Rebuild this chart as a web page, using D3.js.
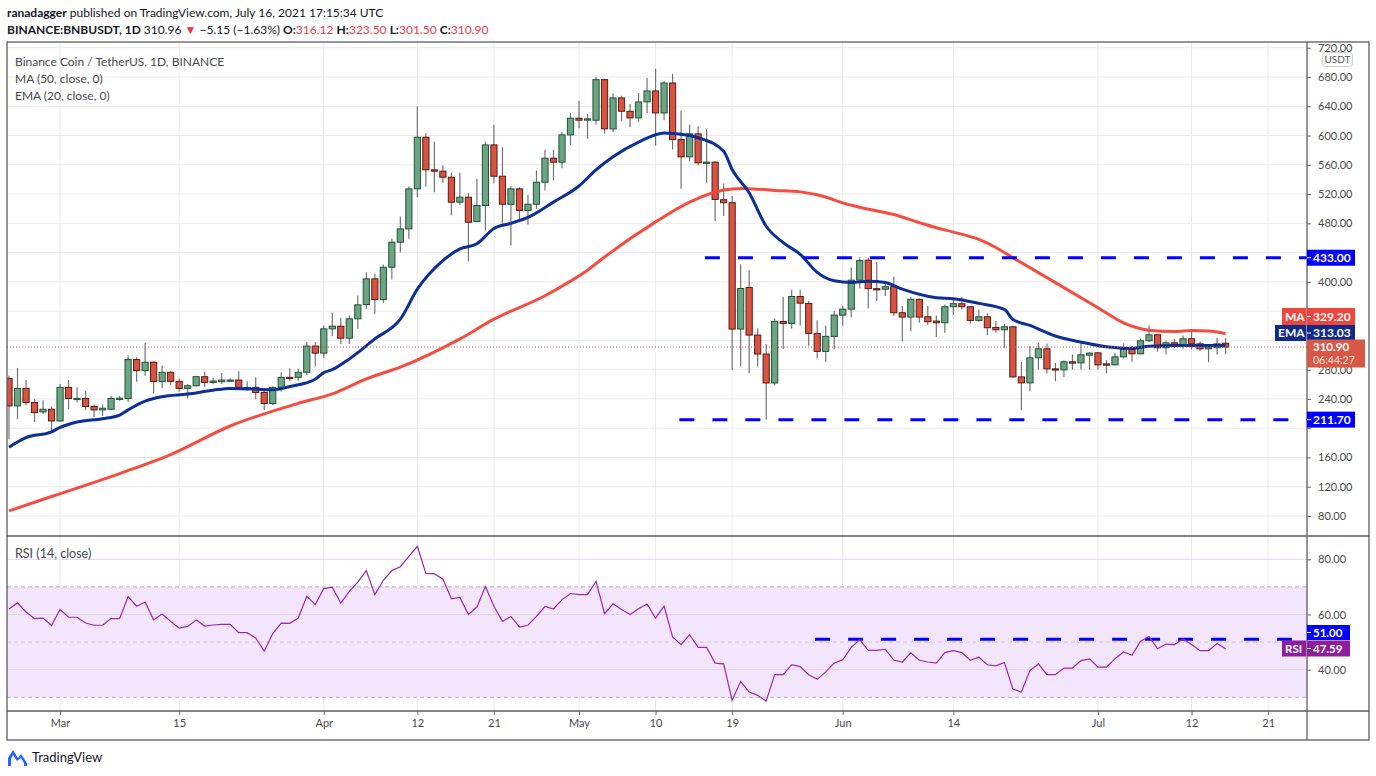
<!DOCTYPE html>
<html>
<head>
  <meta charset="UTF-8">
  <title>Binance Coin / TetherUS, 1D</title>
  <script src="https://d3js.org/d3.v7.min.js"></script>
  <style>
    body { margin: 0; background: #fff; }
    svg text { font-family: Lato, "Noto Sans", sans-serif; }
  </style>
</head>
<body>
<div id="chart"></div>
<script>
  // Daily candles, first one is Feb 23, 2021
  const firstDay = Date.UTC(2021, 1, 23);
  const opens = [268,230.5,254.4,235.1,222.3,225.9,209.9,255.8,240.3,240.6,229.6,225,225.9,240.6,240.6,293.8,278.7,290.2,264,276.4,
    264,254.4,258,270.4,262.6,263.5,264.5,265.8,254.4,255.8,248.9,233.7,255.8,269.5,269.5,276.4,312.2,302.6,335.8,339.4,
    323,349.5,369,404.1,375.8,420,454.2,472.4,527.1,597.7,553.1,551.3,543,508.9,515.7,482.4,504.3,587.2,544.4,506.1,
    527.1,497.5,506.1,536.2,569,563.6,600.9,623.7,621,620.9,676.4,609.1,651.4,633.2,624.1,645.9,660.9,630.9,671.8,594.5,
    570.9,602.3,562.7,563.6,512.3,508.2,335.5,392.3,327.3,301.4,261.8,345.9,343.2,380,370.5,329.6,305,325.5,354.5,362.7,
    402.3,429.5,390.7,390,393.4,357.8,351.9,376.1,352.3,346.4,344.1,366,370.1,366,347.3,352.3,337.7,334.5,338.6,270.1,
    261.9,296.2,308.5,281.1,279.7,290.7,289.3,299.8,303,287.9,286.6,297.5,307.6,301.7,319.5,327.7,309.9,316.7,314.4,322.2,
    315.3,308.5,309.9,316.12];
  const highs = [272,282.4,265.8,239.7,238.3,229.6,260.3,265.8,255.8,250.7,232.3,232.3,244.3,244.3,299.3,297.1,316.8,291.6,285.6,277.8,
    268.1,260.3,271.8,277.3,269.1,275.5,268.1,277.8,264,269.5,251.2,257.1,276.4,281.9,281,317.7,317.7,340.3,357.6,350.8,
    354,381.4,413.2,410.9,423.7,458.8,489.3,530.3,639.6,603.6,591.8,559,549,549,521.2,540.8,591.8,614.6,584.1,530.3,
    529.4,518.9,552.2,580.4,580.4,604.6,630.5,647.8,629.6,680,677.3,657.3,654.5,643.6,658.2,678.6,691.4,674.1,684.5,634.1,
    615,612.7,608.6,565,534.5,517.3,424.1,415.9,336.4,315,350,379.5,389.1,389.1,374.1,347.7,340,360.5,367.3,419.5,
    433.6,433,427.2,400.3,407.1,366.9,379.3,377.4,366.9,354.2,369.2,377.4,379.7,366.9,362.4,356.9,346.4,342.3,339.5,290.7,
    312.2,316.7,315.8,289.3,292.9,300.8,316.7,304.4,303.9,293,303,315.8,312.2,322.7,340.5,328.5,319.9,322.2,326.6,335,
    318.1,313.1,323.6,323.5];
  const lows = [185,212.2,231.4,208.5,219,196.1,208.5,225.9,235.1,225,215.8,216.7,224.5,237.4,236,263.6,271.8,247.5,254.8,259,
    249.8,240.6,256.7,256.7,259.9,260.3,263.6,252.5,251.2,239.7,225,231.4,250.2,264.5,265,272.7,284.2,296,325.7,315.2,
    315.2,335.8,363.2,356.3,371.3,403.2,440.5,458.8,515.7,530.3,522.5,535.3,490.7,505.2,427.8,481.5,470.2,534.9,479.3,449.7,
    481.5,478.4,499.8,524.8,538.5,555.4,587.2,610,595.4,615,602.7,604.5,619.5,611.4,618.2,630.9,586.4,620.9,580.9,527.3,
    565,559.1,535.5,483.2,490,280,284.5,275,284.5,211.7,259.1,308.2,336.4,340,312.7,295.5,290.9,308.2,340,351.4,
    390.9,363.7,373.8,380.6,353.2,319,332.7,344.1,340.9,324.5,330.4,354.6,362.4,342.7,345.5,327.2,330.4,309.9,268.8,224.5,
    250.5,280.2,274.7,264.2,270.1,280.2,280.2,280.2,280.2,274.7,286.1,295.3,290.7,300.7,317.6,304.4,300.7,309.9,309,307.6,
    305.3,290.2,300.7,301.5];
  const closes = [230.5,254.4,235.1,221.3,225.9,209.9,255.8,240.6,240.8,229.6,225,227.3,240.6,241,293.8,278.7,290.2,264,276.4,264,
    254.4,258,270.4,262.6,264.5,265.8,265.8,255.8,255.8,248.9,233.7,255.8,269.5,268.6,276.4,312.2,302.6,335.8,339.4,323,
    349.5,368.6,404.1,375.8,420,454.2,472.4,527.1,597.7,553.1,551.3,543,508.9,515.7,481.5,504.3,587.2,544.4,506.1,527.1,
    497.5,506.1,536.2,569,563.6,600.9,623.7,621,622.8,676.4,609.1,651.4,633.2,624.1,645.9,660.9,630.9,671.8,594.5,570.9,
    602.3,562.7,563.6,512.7,508.2,335.5,390.9,327.3,301.4,261.8,345.9,343.2,380,370.9,329.6,305,325.5,354.5,362.7,402.3,
    429.1,390.7,390,393.4,357.8,351.9,376.1,351.9,345.5,344.1,366,370.1,366,347.3,352.3,337.3,334.5,338.6,270.1,261.9,
    296.2,308.5,281.1,279.7,290.7,288.9,300.3,302.6,286.6,286.1,297.5,307.6,301.7,319.5,327.7,309.9,316.7,314.4,322.2,315.3,
    308.5,310.8,315.3,310.9];

  // MA(50) and EMA(20) at these day indexes
  const maDays   = [0,5,13,19,26,34,38,42,46,53,57,63,66,68,70,76,80,84,86,90,93,96,98,100,104,107,109,111,114,116,118,123,128,131,134,137,139,141,143];
  const maValues = [87,106.6,138,164,203,234,247,267.4,283.4,322,349,381,401,416,434,482,509,525.5,527.7,525,523,516,508,502,492,481,474,468,458,447,433,399,364.7,344,334,332.2,333.6,332.7,329.2];
  const emaDays   = [0,2,5,6,8,11,13,14,16,18,21,24,26,29,31,33,36,37,38,40,43,46,48,51,53,55,57,59,61,64,67,69,71,74,77,80,81,84,85,87,89,91,93,95,97,99,101,103,105,109,111,114,117,118,120,123,126,129,132,134,137,140,143];
  const emaValues = [174,187,195,201,208.5,213,218,225,237,243,246.6,252,254.4,253.5,252.5,257,267,276,280,294.7,322,349,390,429,445,452,473,480,488,509,531,553,571,591,603.6,600,597,578.6,553.6,521.8,476,453.6,437.7,413,401.4,399,401,399,390,378.4,377,370.6,362.4,348.7,340.5,326,317.6,311.2,309,312,313,313,313.03];

  // RSI(14), one reading per candle
  const rsiValues = [62,64.2,60.9,58.5,58.7,56,61.8,59,59,56.9,56.1,56.1,58.5,58.5,66.5,63,64.5,58.1,60.2,57.5,
    55.1,55.7,58,55.8,56.2,56.4,56.4,53.4,53.4,51.5,46.7,53.1,56.9,56.8,58.7,66.6,63.6,69.4,69.9,64.1,
    68.4,71.7,75.9,67.2,72.4,75.9,77.3,81.1,84.7,74.9,74.7,72.9,65.7,66.2,60,62.7,70.1,63,57.5,59.3,
    55.4,56.1,59.3,62.9,62,65.4,67.6,67.2,67.2,72,60.3,63.9,61.8,60,62.1,63.8,58.7,63,51.9,49.1,
    52.7,48.1,48.1,42.4,42.1,28.9,35.8,31.9,30.7,28.6,38.2,38.2,41.8,41.1,38.2,36.5,39.2,42.4,43.6,48.1,
    50.9,47,47,47.4,43.5,42.8,46.1,43.4,42.8,42.4,46.2,46.9,46.2,43.4,44.5,41.8,41.4,42.6,33,31.9,
    39.7,42.1,38.2,38.2,40.6,40.6,43.3,43.9,40.9,40.9,44,46.4,45.2,50.3,52,47.6,49.3,49.1,51.1,49.1,
    46.9,46.9,49.5,47.59];

  const priceTicks = [720,680,640,600,560,520,480,440,400,360,320,280,240,200,160,120,80];
  const hiddenTickLabels = [440, 360, 320, 200];   // sit under the level / MA / EMA tags
  const rsiTicks = [80,60,40];
  const dateTicks = ["2021-03-01","2021-03-15","2021-04-01","2021-04-12","2021-04-21","2021-05-01","2021-05-10","2021-05-19","2021-06-01","2021-06-14","2021-07-01","2021-07-12","2021-07-21"];
  const dateLabels = ["Mar","15","Apr","12","21","May","10","19","Jun","14","Jul","12","21"];

  // drawn levels: value, first day index
  const priceLevels = [433, 211.7];
  const priceLevelFrom = [81.8, 78.8];
  const rsiLevel = 51, rsiLevelFrom = 94.75, rsiLevelTo = 150.8;

  const lastPrice = 310.90, maLast = 329.20, emaLast = 313.03, rsiLast = 47.59;

  // ---------------------------------------------------------------
  const W = 1376, H = 776;
  const L = 7, R = 1307, OUTR = 1369;
  const TOP = 42, MAINB = 536, RSIB = 711, BOT = 740;
  const DAY = 864e5;
  const fmt = d3.format(".2f");

  const svg = d3.select("#chart").append("svg").attr("width", W).attr("height", H);

  const x = d3.scaleUtc()
    .domain([new Date(firstDay - 0.235 * DAY), new Date(firstDay + 152.57 * DAY)])
    .range([L, R]);
  const xi = i => x(new Date(firstDay + i * DAY));
  const y = d3.scaleLinear().domain([80, 680]).range([516, 77]);
  const yr = d3.scaleLinear().domain([30, 80]).range([697.3, 559.3]);

  const defs = svg.append("defs");
  defs.append("clipPath").attr("id", "clipMain").append("rect")
    .attr("x", L).attr("y", TOP).attr("width", R - L).attr("height", MAINB - TOP);
  defs.append("clipPath").attr("id", "clipRsi").append("rect")
    .attr("x", L).attr("y", MAINB).attr("width", R - L).attr("height", RSIB - MAINB);
  defs.append("clipPath").attr("id", "clipAxis").append("rect")
    .attr("x", R).attr("y", TOP + 1).attr("width", OUTR - R).attr("height", MAINB - TOP - 1);

  // grid
  const dates = dateTicks.map(d => new Date(d + "T00:00:00Z"));
  svg.append("g").selectAll("line").data(dates).join("line")
    .attr("x1", d => x(d)).attr("x2", d => x(d)).attr("y1", TOP).attr("y2", RSIB)
    .attr("stroke", "#ebebeb");
  svg.append("g").selectAll("line").data(priceTicks).join("line")
    .attr("x1", L).attr("x2", R).attr("y1", d => y(d)).attr("y2", d => y(d))
    .attr("stroke", "#ebebeb").attr("clip-path", "url(#clipMain)");

  // RSI band and grid
  svg.append("rect").attr("x", L).attr("width", R - L)
    .attr("y", yr(70)).attr("height", yr(30) - yr(70)).attr("fill", "#f3e6fc");
  svg.append("g").selectAll("line").data(rsiTicks).join("line")
    .attr("x1", L).attr("x2", R).attr("y1", d => yr(d)).attr("y2", d => yr(d))
    .attr("stroke", "#e2d6e8");
  svg.append("g").selectAll("line").data([70, 50, 30]).join("line")
    .attr("x1", L).attr("x2", R).attr("y1", d => yr(d)).attr("y2", d => yr(d))
    .attr("stroke", d => d == 50 ? "#d2c6d8" : "#b9b1bf").attr("stroke-dasharray", "4,3");

  // candles
  const candles = d3.range(closes.length).map(i => ({
    i: i, o: opens[i], h: highs[i], l: lows[i], c: closes[i]
  }));
  const gC = svg.append("g").attr("clip-path", "url(#clipMain)");
  gC.selectAll("line").data(candles).join("line")
    .attr("x1", d => xi(d.i)).attr("x2", d => xi(d.i))
    .attr("y1", d => y(d.h)).attr("y2", d => y(d.l))
    .attr("stroke", "#737375").attr("stroke-width", 1.2);
  gC.selectAll("rect").data(candles).join("rect")
    .attr("x", d => xi(d.i) - 3.1).attr("width", 6.2)
    .attr("y", d => y(Math.max(d.o, d.c)))
    .attr("height", d => Math.max(1.2, Math.abs(y(d.o) - y(d.c))))
    .attr("fill", d => d.c >= d.o ? "#6ba583" : "#d75442")
    .attr("stroke", d => d.c >= d.o ? "#225437" : "#5b1a13")
    .attr("stroke-width", 1);

  // moving averages
  const line = d3.line().x(d => xi(d[0])).y(d => y(d[1])).curve(d3.curveMonotoneX);
  gC.append("path").datum(maDays.map((d, k) => [d, maValues[k]]))
    .attr("d", line).attr("fill", "none").attr("stroke", "#f44336")
    .attr("stroke-width", 3).attr("opacity", 0.95);
  gC.append("path").datum(emaDays.map((d, k) => [d, emaValues[k]]))
    .attr("d", line).attr("fill", "none").attr("stroke", "#0c2f98")
    .attr("stroke-width", 3);

  // horizontal levels
  gC.selectAll(".lvl").data(priceLevels).join("line").attr("class", "lvl")
    .attr("x1", (d, k) => xi(priceLevelFrom[k])).attr("x2", R)
    .attr("y1", d => y(d)).attr("y2", d => y(d))
    .attr("stroke", "#0000ff").attr("stroke-width", 3).attr("stroke-dasharray", "15,18");

  // last price dotted line
  gC.append("line").attr("x1", L).attr("x2", R)
    .attr("y1", y(lastPrice)).attr("y2", y(lastPrice))
    .attr("stroke", "#e0574a").attr("stroke-dasharray", "1,2");

  // RSI line
  const gR = svg.append("g").attr("clip-path", "url(#clipRsi)");
  gR.append("line").attr("x1", xi(rsiLevelFrom)).attr("x2", xi(rsiLevelTo))
    .attr("y1", yr(rsiLevel)).attr("y2", yr(rsiLevel))
    .attr("stroke", "#0000ff").attr("stroke-width", 3).attr("stroke-dasharray", "15,18");
  gR.append("path").datum(rsiValues)
    .attr("d", d3.line().x((d, i) => xi(i)).y(d => yr(d)))
    .attr("fill", "none").attr("stroke", "#9c27b0").attr("stroke-width", 1.2);

  // frame
  const fr = svg.append("g").attr("stroke", "#5d5d5d").attr("stroke-width", 1.3);
  fr.append("rect").attr("x", L).attr("y", TOP).attr("width", OUTR - L).attr("height", BOT - TOP).attr("fill", "none");
  fr.append("line").attr("x1", R).attr("x2", R).attr("y1", TOP).attr("y2", BOT);
  fr.append("line").attr("x1", L).attr("x2", OUTR).attr("y1", MAINB).attr("y2", MAINB);
  fr.append("line").attr("x1", L).attr("x2", OUTR).attr("y1", RSIB).attr("y2", RSIB);

  // axes
  function styleAxis(g) {
    g.select(".domain").remove();
    g.selectAll(".tick line").attr("stroke", "#6a6a6a");
    g.selectAll(".tick text").attr("fill", "#4a4a4a").style("font-size", "11px");
  }
  svg.append("g").attr("clip-path", "url(#clipAxis)")
    .append("g").attr("transform", `translate(${R},0)`)
    .call(d3.axisRight(y).tickValues(priceTicks)
      .tickFormat(d => hiddenTickLabels.includes(d) ? "" : fmt(d))
      .tickSize(4).tickPadding(7))
    .call(styleAxis);
  svg.append("g").attr("transform", `translate(${R},0)`)
    .call(d3.axisRight(yr).tickValues(rsiTicks).tickFormat(fmt).tickSize(4).tickPadding(7))
    .call(styleAxis);
  svg.append("g").attr("transform", `translate(0,${RSIB})`)
    .call(d3.axisBottom(x).tickValues(dates).tickFormat((d, i) => dateLabels[i]).tickSize(4).tickPadding(4))
    .call(styleAxis);

  // price tags on the scale
  function tag(x0, yc, w, h, fill, txt, opts) {
    opts = opts || {};
    svg.append("rect").attr("x", x0).attr("y", yc - h / 2).attr("width", w).attr("height", h)
      .attr("fill", fill);
    if (x0 == R) {
      svg.append("line").attr("x1", R).attr("x2", R + 4).attr("y1", yc).attr("y2", yc)
        .attr("stroke", "#fff");
    }
    svg.append("text").attr("x", x0 + (opts.tx || 6)).attr("y", yc).attr("dy", "0.36em")
      .attr("fill", "#fff").style("font-size", (opts.fs || 12) + "px").style("font-weight", 700).text(txt);
  }
  tag(R, y(433), 48, 16, "#0000ff", "433.00");
  tag(R, y(211.7), 48, 16, "#0000ff", "211.70");
  tag(1282, 316.5, 24, 17, "#f0453a", "MA", {tx: 3});
  tag(R, 316.5, 48, 17, "#f0453a", fmt(maLast));
  tag(1275, 333, 31, 16, "#0f2a8a", "EMA", {tx: 3});
  tag(R, 333, 48, 16, "#0f2a8a", fmt(emaLast));
  svg.append("rect").attr("x", R).attr("y", 339.5).attr("width", 58).attr("height", 28).attr("fill", "#d85845");
  svg.append("text").attr("x", R + 6).attr("y", 347).attr("dy", "0.36em").attr("fill", "#fff")
    .style("font-size", "11.5px").style("font-weight", 700).text(fmt(lastPrice));
  svg.append("text").attr("x", R + 6).attr("y", 360).attr("dy", "0.36em").attr("fill", "#fde2dc")
    .style("font-size", "10.5px").text("06:44:27");
  tag(R, 632.5, 43, 15, "#0000ff", fmt(rsiLevel), {fs: 11.5});
  tag(1282, 648.5, 24, 16, "#8e1d9c", "RSI", {tx: 3, fs: 11.5});
  tag(R, 648.5, 43, 16, "#8e1d9c", fmt(rsiLast), {fs: 11.5});

  // currency badge
  svg.append("rect").attr("x", 1322.5).attr("y", 52.5).attr("width", 30).attr("height", 14)
    .attr("rx", 3).attr("fill", "#fff").attr("stroke", "#d0d0d0");
  svg.append("text").attr("x", 1337.5).attr("y", 59.5).attr("dy", "0.35em").attr("text-anchor", "middle")
    .attr("fill", "#555").style("font-size", "10px").text("USDT");

  // header
  const h1 = svg.append("text").attr("x", 7).attr("y", 17).attr("fill", "#131722").style("font-size", "12px");
  h1.append("tspan").style("font-weight", 700).text("ranadagger");
  h1.append("tspan").text(" published on TradingView.com, July 16, 2021 17:15:34 UTC");
  const h2 = svg.append("text").attr("x", 7).attr("y", 34).attr("fill", "#131722").style("font-size", "12px");
  h2.append("tspan").style("font-weight", 700).text("BINANCE:BNBUSDT, 1D");
  h2.append("tspan").text("  310.96 ");
  h2.append("tspan").attr("fill", "#f23645").text("▼");
  h2.append("tspan").text(" \u22125.15 (\u22121.63%) ");
  [["O:", "316.12"], ["H:", "323.50"], ["L:", "301.50"], ["C:", "310.90"]].forEach((p, k) => {
    h2.append("tspan").style("font-weight", 700).text(p[0]);
    h2.append("tspan").attr("fill", "#f23645").text(k < 3 ? p[1] + " " : p[1]);
  });

  // legends
  const legend = ["Binance Coin / TetherUS, 1D, BINANCE", "MA (50, close, 0)", "EMA (20, close, 0)"];
  svg.append("g").selectAll("text").data(legend).join("text")
    .attr("x", 15).attr("y", (d, i) => 65.5 + i * 17).attr("fill", "#4a4a4a")
    .style("font-size", "12px").text(d => d);
  svg.append("text").attr("x", 15).attr("y", 557.5).attr("fill", "#4a4a4a")
    .style("font-size", "12.5px").text("RSI (14, close)");

  // footer logo
  const logo = svg.append("g").attr("transform", "translate(8,749)");
  logo.append("path").attr("d", "M0,17 L0,9 L5,1 L10,9 L13,5 L19,14 L19,17 Z").attr("fill", "#2962ff");
  logo.append("path").attr("d", "M3,17 L3,10 L5,6 L9,12 L13,9 L16,14 L16,17 Z").attr("fill", "#fff");
  svg.append("text").attr("x", 32).attr("y", 762).attr("fill", "#131722")
    .style("font-size", "13px").text("TradingView");
</script>
</body>
</html>
